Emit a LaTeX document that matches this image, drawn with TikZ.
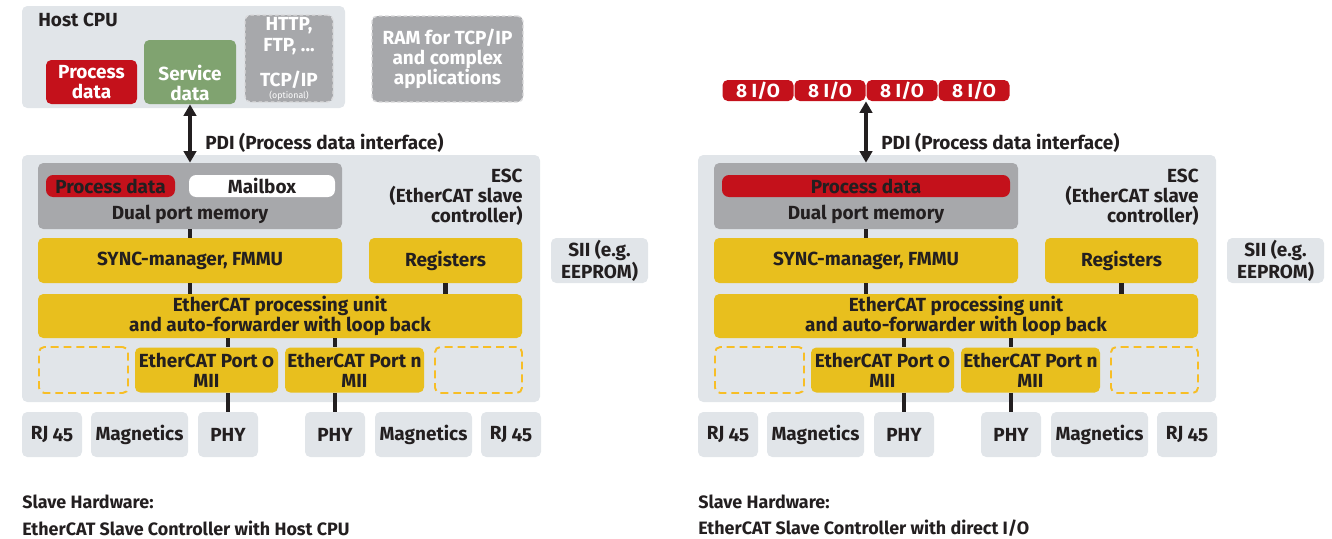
\documentclass[tikz,border=0pt]{standalone}
\usepackage{fontspec}
\setmainfont{Fira Sans}[Numbers=OldStyle]
\usepackage{xcolor}
\definecolor{escgrey}{RGB}{225,229,233}
\definecolor{dpmgrey}{RGB}{167,168,171}
\definecolor{dashgrey}{RGB}{218,218,220}
\definecolor{pdred}{RGB}{196,17,27}
\definecolor{sdgreen}{RGB}{128,163,112}
\definecolor{fmmuyellow}{RGB}{232,191,30}
\definecolor{optorange}{RGB}{247,190,38}
\definecolor{inkdark}{RGB}{35,31,32}
\usepackage{tikz}
\usetikzlibrary{arrows.meta}
\newcommand{\px}{0.02cm}
\newcommand{\boxfont}{\fontsize{10.8}{11.5}\selectfont\bfseries}
\newcommand{\capfont}{\fontsize{10.2}{11}\selectfont\bfseries}
\tikzset{
    boxwh/.style 2 args={minimum width=#1*\px, minimum height=#2*\px},
    common/.style={rectangle, rounded corners=3pt, inner sep=0pt, align=center, text=inkdark},
    panel/.style={common, fill=escgrey},
    dpmbox/.style={common, fill=dpmgrey},
    ybox/.style={common, fill=fmmuyellow},
    redbox/.style={common, fill=pdred, text=white},
    greenbox/.style={common, fill=sdgreen},
    pillbox/.style={common, rounded corners=4pt, boxwh={#1}{22}},
    optbox/.style={common, fill=dpmgrey, draw=dashgrey, line width=0.8pt, dash pattern=on 2pt off 1.5pt, text=white},
    dashbox/.style={common, draw=optorange, line width=1.1pt, dash pattern=on 4.5pt off 2.8pt},
    txt/.style={inner sep=0pt, align=center, text=inkdark},
    wtxt/.style={txt, text=white},
    link/.style={line width=2.4pt, inkdark},
    pdi/.style={{Triangle[length=6.5pt,width=7pt]}-{Triangle[length=6.5pt,width=7pt]}, line width=2pt, inkdark}
}
% the part both slave boards share
\newcommand{\escbody}[1]{%
    \node[panel, boxwh={518}{247}] (esc) at (281,278.5) {};
    \node[dpmbox, boxwh={304}{66}] (dpm) at (190,196) {};
    \node[txt] (dpmlbl) at (190,214) {Dual port memory};
    \node[txt, align=right, anchor=east] (esclbl) at (523,197) {ESC\\(EtherCAT slave\\controller)};
    \node[ybox, boxwh={304}{45}] (sync) at (190,260.5) {SYNC-manager, FMMU};
    \node[ybox, boxwh={153}{45}] (regs) at (445.5,260.5) {Registers};
    \node[panel, boxwh={97}{45}] (sii) at (599.5,260.5) {SII (e.g.\\EEPROM)};
    \node[ybox, boxwh={484}{44}] (epu) at (280,316) {EtherCAT processing unit\\and auto-forwarder with loop back};
    \node[dashbox, boxwh={89}{46}] (optl) at (83.5,370) {};
    \node[ybox, boxwh={143}{45}] (port0) at (206.5,370) {EtherCAT Port 0\\MII};
    \node[ybox, boxwh={139}{45}] (portn) at (354.5,370) {EtherCAT Port n\\MII};
    \node[dashbox, boxwh={87}{46}] (optr) at (478.5,370) {};
    \node[panel, boxwh={60}{45}] (rj0) at (52,434.5) {RJ 45};
    \node[panel, boxwh={97}{45}] (mag0) at (139.5,434.5) {Magnetics};
    \node[panel, boxwh={60}{45}] (phy0) at (228,434.5) {PHY};
    \node[panel, boxwh={60}{45}] (phyn) at (335,434.5) {PHY};
    \node[panel, boxwh={97}{45}] (magn) at (423.5,434.5) {Magnetics};
    \node[panel, boxwh={60}{45}] (rjn) at (511,434.5) {RJ 45};
    \node[txt, anchor=west, font=\capfont] (cap1) at (22,502) {Slave Hardware:};
    \node[txt, anchor=west, font=\capfont] (cap2) at (22,528) {#1};

    \draw[link] (dpm) -- (sync) (sync.south) -- (sync.south |- epu.north)
        (regs.south) -- (regs.south |- epu.north)
        (epu.south -| phy0) -- (port0.north -| phy0) (port0.south -| phy0) -- (phy0)
        (epu.south -| phyn) -- (portn.north -| phyn) (portn.south -| phyn) -- (phyn);
}

\begin{document}
\begin{tikzpicture}[x=\px, y=-\px, every node/.style={font=\boxfont}]
    \useasboundingbox (0,0) rectangle (1332,538);

    % slave with host CPU
    \begin{scope}[name prefix=L-]
        \node[panel, boxwh={323}{102}] (host) at (183.5,57) {};
        \node[txt, anchor=west] (hostlbl) at (38,20) {Host CPU};
        \node[redbox, boxwh={91}{44}] (hpd) at (91.5,82) {Process\\data};
        \node[greenbox, boxwh={92}{64}] (hsd) at (190,72) {};
        \node[wtxt] (hsdlbl) at (190,83) {Service\\data};
        \node[optbox, boxwh={88}{87}] (http) at (289,58.5) {};
        \node[wtxt] (httplbl) at (289,36) {HTTP,\\FTP, ...};
        \node[wtxt] (tcplbl) at (289,80) {TCP/IP};
        \node[wtxt, font=\fontsize{5}{5}\selectfont] (optlbl) at (289,95.5) {(optional)};
        \node[optbox, boxwh={151}{86}] (ram) at (447.5,59) {RAM for TCP/IP\\and complex\\applications};

        \escbody{EtherCAT Slave Controller with Host CPU}
        \node[redbox, pillbox=129] (pd) at (110.5,186) {Process data};
        \node[common, fill=white, pillbox=146] (mbx) at (262,186) {Mailbox};

        \draw[pdi] (hsd) -- (dpm);
        \node[txt, anchor=west] (pdilbl) at (205,143) {PDI (Process data interface)};
    \end{scope}

    % slave with direct I/O
    \begin{scope}[shift={(676,0)}, name prefix=R-]
        \node[redbox, boxwh={71}{21}] (io1) at (82,90.5) {8 I/O};
        \node[redbox, boxwh={71}{21}] (io2) at (154,90.5) {8 I/O};
        \node[redbox, boxwh={71}{21}] (io3) at (226,90.5) {8 I/O};
        \node[redbox, boxwh={71}{21}] (io4) at (298,90.5) {8 I/O};

        \escbody{EtherCAT Slave Controller with direct I/O}
        \node[redbox, pillbox=288] (pd) at (190,186) {Process data};

        \draw[pdi] (dpm.north) -- (dpm.north |- io2.south);
        \node[txt, anchor=west] (pdilbl) at (205,143) {PDI (Process data interface)};
    \end{scope}
\end{tikzpicture}
\end{document}
